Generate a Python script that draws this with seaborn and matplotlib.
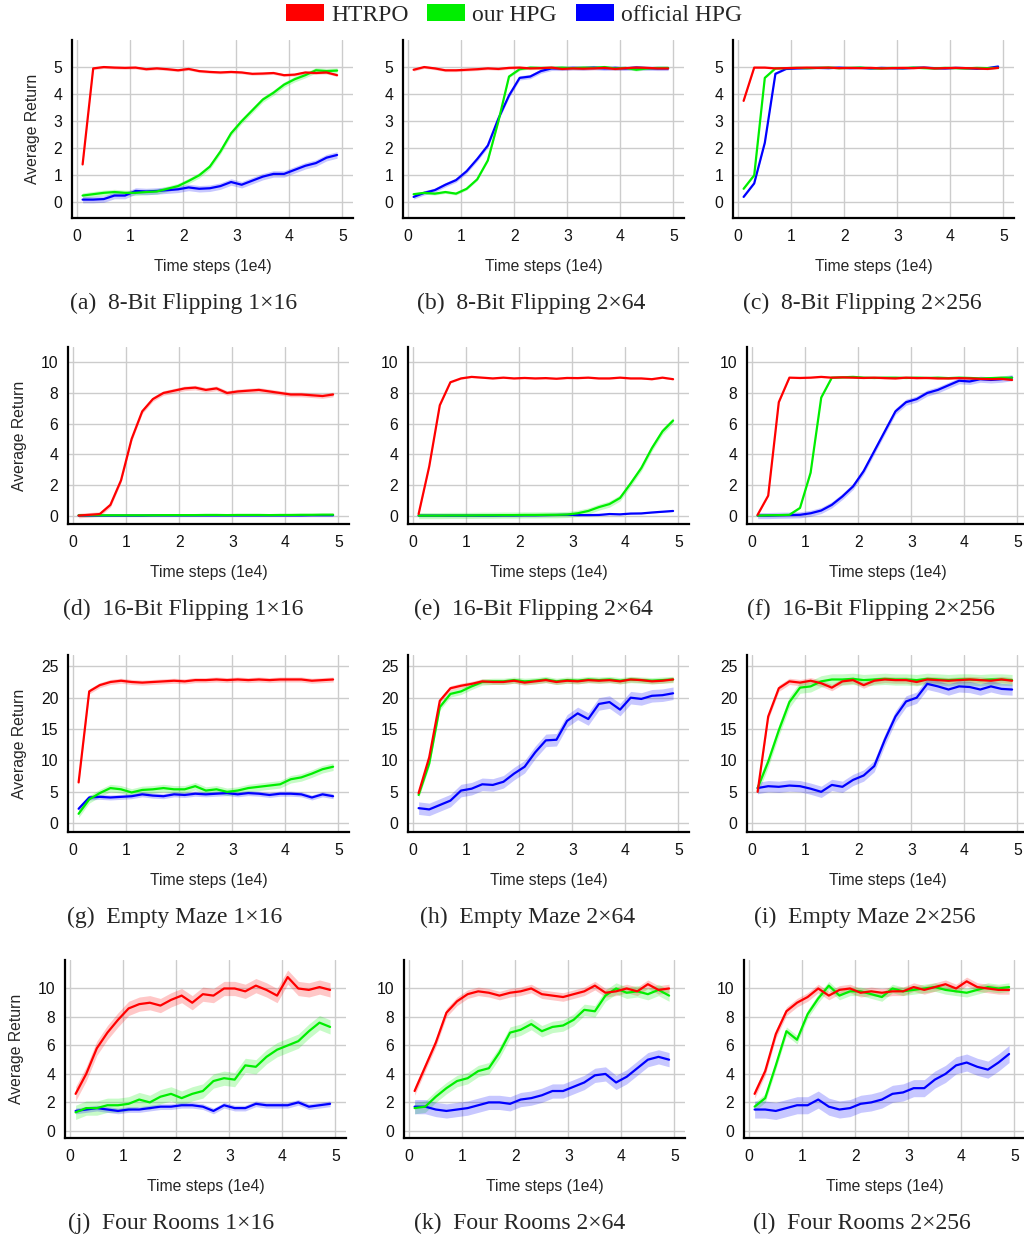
import numpy as np
import pandas as pd
import matplotlib
matplotlib.use("Agg")
import matplotlib.pyplot as plt
import seaborn as sns
from matplotlib.patches import Patch

# ---------------- data ----------------
time_steps = [0.1, 0.3, 0.5, 0.7, 0.9, 1.1, 1.3, 1.5, 1.7, 1.9, 2.1, 2.3, 2.5,
              2.7, 2.9, 3.1, 3.3, 3.5, 3.7, 3.9, 4.1, 4.3, 4.5, 4.7, 4.9]
methods = ["HTRPO", "our HPG", "official HPG"]
captions = ["(a)  8-Bit Flipping 1\u00d716", "(b)  8-Bit Flipping 2\u00d764", "(c)  8-Bit Flipping 2\u00d7256",
            "(d)  16-Bit Flipping 1\u00d716", "(e)  16-Bit Flipping 2\u00d764", "(f)  16-Bit Flipping 2\u00d7256",
            "(g)  Empty Maze 1\u00d716", "(h)  Empty Maze 2\u00d764", "(i)  Empty Maze 2\u00d7256",
            "(j)  Four Rooms 1\u00d716", "(k)  Four Rooms 2\u00d764", "(l)  Four Rooms 2\u00d7256"]

htrpo_a = [1.4, 4.95, 5.0, 4.98, 4.97, 4.98, 4.92, 4.95, 4.92, 4.88, 4.93, 4.85, 4.82, 4.8, 4.82, 4.8, 4.75, 4.76, 4.78, 4.7, 4.72, 4.8, 4.78, 4.8, 4.7]
ourhpg_a = [0.25, 0.3, 0.35, 0.38, 0.35, 0.35, 0.38, 0.4, 0.5, 0.6, 0.79, 1.0, 1.32, 1.88, 2.55, 3.0, 3.4, 3.8, 4.05, 4.35, 4.55, 4.7, 4.88, 4.85, 4.87]
official_a = [0.1, 0.1, 0.12, 0.25, 0.25, 0.42, 0.4, 0.42, 0.45, 0.48, 0.55, 0.5, 0.52, 0.6, 0.75, 0.65, 0.8, 0.95, 1.05, 1.05, 1.2, 1.35, 1.45, 1.65, 1.75]

htrpo_b = [4.9, 5.0, 4.95, 4.88, 4.88, 4.9, 4.92, 4.95, 4.93, 4.97, 4.98, 4.95, 4.96, 4.98, 4.93, 4.95, 4.94, 4.95, 4.97, 4.93, 4.96, 4.98, 4.97, 4.95, 4.95]
ourhpg_b = [0.3, 0.35, 0.32, 0.38, 0.32, 0.5, 0.85, 1.55, 3.0, 4.65, 4.92, 4.98, 4.97, 4.97, 4.98, 4.96, 4.98, 4.97, 5.0, 4.95, 4.97, 4.9, 4.95, 4.97, 4.97]
official_b = [0.2, 0.35, 0.45, 0.65, 0.82, 1.15, 1.6, 2.1, 3.1, 3.95, 4.6, 4.65, 4.85, 4.95, 4.95, 4.97, 4.96, 4.98, 4.95, 4.97, 4.95, 4.98, 4.96, 4.95, 4.95]

htrpo_c = [3.75, 4.98, 4.98, 4.95, 4.96, 4.97, 4.98, 4.97, 4.98, 4.96, 4.97, 4.96, 4.97, 4.95, 4.96, 4.97, 4.96, 4.98, 4.95, 4.96, 4.97, 4.96, 4.95, 4.93, 4.97]
ourhpg_c = [0.5, 1.0, 4.6, 4.95, 4.96, 4.97, 4.96, 4.97, 4.98, 4.96, 4.97, 4.98, 4.96, 4.95, 4.97, 4.96, 4.98, 4.96, 4.95, 4.97, 4.96, 4.95, 4.97, 4.96, 4.97]
official_c = [0.2, 0.7, 2.2, 4.75, 4.93, 4.95, 4.96, 4.97, 4.96, 4.98, 4.96, 4.97, 4.95, 4.97, 4.96, 4.95, 4.97, 4.98, 4.96, 4.95, 4.97, 4.96, 4.94, 4.96, 5.02]

htrpo_d = [0.0, 0.05, 0.1, 0.7, 2.3, 5.0, 6.8, 7.6, 8.0, 8.15, 8.3, 8.35, 8.2, 8.3, 8.0, 8.1, 8.15, 8.2, 8.1, 8.0, 7.9, 7.9, 7.85, 7.8, 7.9]
ourhpg_d = [0.02, 0.02, 0.02, 0.02, 0.02, 0.02, 0.02, 0.02, 0.03, 0.03, 0.03, 0.03, 0.04, 0.04, 0.03, 0.04, 0.04, 0.04, 0.03, 0.04, 0.04, 0.05, 0.05, 0.06, 0.06]
official_d = [0.0, 0.0, 0.0, 0.0, 0.0, 0.0, 0.0, 0.01, 0.01, 0.01, 0.01, 0.01, 0.01, 0.01, 0.01, 0.01, 0.01, 0.01, 0.01, 0.01, 0.01, 0.01, 0.02, 0.02, 0.02]

htrpo_e = [0.1, 3.2, 7.2, 8.7, 8.95, 9.05, 9.0, 8.95, 9.0, 8.95, 8.98, 8.95, 8.97, 8.93, 8.98, 8.97, 9.0, 8.95, 8.95, 9.0, 8.95, 8.95, 8.9, 9.0, 8.9]
ourhpg_e = [0.0, 0.0, 0.0, 0.01, 0.01, 0.01, 0.02, 0.02, 0.03, 0.03, 0.04, 0.04, 0.05, 0.05, 0.07, 0.15, 0.3, 0.55, 0.75, 1.15, 2.1, 3.1, 4.4, 5.5, 6.2]
official_e = [0.0, 0.0, 0.0, 0.0, 0.0, 0.0, 0.0, 0.0, 0.01, 0.01, 0.02, 0.02, 0.03, 0.04, 0.05, 0.03, 0.03, 0.04, 0.1, 0.08, 0.13, 0.14, 0.2, 0.25, 0.3]

htrpo_f = [0.05, 1.3, 7.4, 9.0, 8.98, 9.0, 9.05, 9.0, 9.02, 9.0, 8.98, 9.0, 8.97, 8.95, 9.0, 8.97, 8.98, 8.95, 8.95, 8.97, 8.95, 8.92, 8.9, 8.92, 8.85]
ourhpg_f = [0.0, 0.02, 0.03, 0.05, 0.5, 2.8, 7.7, 9.0, 9.02, 9.05, 9.0, 8.98, 9.0, 9.0, 8.98, 9.0, 8.98, 9.0, 8.97, 9.0, 8.98, 8.95, 8.97, 9.0, 9.0]
official_f = [0.0, 0.0, 0.02, 0.03, 0.05, 0.15, 0.33, 0.7, 1.25, 1.9, 2.9, 4.2, 5.5, 6.8, 7.4, 7.6, 8.0, 8.2, 8.5, 8.8, 8.75, 8.9, 8.85, 8.9, 9.0]

htrpo_g = [6.5, 21.0, 22.0, 22.5, 22.7, 22.5, 22.4, 22.5, 22.6, 22.7, 22.6, 22.8, 22.8, 22.9, 22.8, 22.9, 22.8, 22.9, 22.8, 22.9, 22.9, 22.9, 22.7, 22.8, 22.9]
ourhpg_g = [1.5, 3.8, 4.8, 5.6, 5.4, 4.9, 5.3, 5.4, 5.6, 5.4, 5.4, 5.9, 5.2, 5.4, 5.0, 5.2, 5.6, 5.8, 6.0, 6.2, 7.0, 7.3, 7.9, 8.6, 9.0]
official_g = [2.3, 4.1, 4.2, 4.1, 4.2, 4.3, 4.6, 4.4, 4.3, 4.6, 4.5, 4.7, 4.6, 4.7, 4.8, 4.6, 4.8, 4.7, 4.5, 4.7, 4.7, 4.6, 4.1, 4.6, 4.3]

htrpo_h = [4.8, 10.5, 19.5, 21.5, 21.9, 22.2, 22.6, 22.5, 22.5, 22.7, 22.4, 22.6, 22.8, 22.5, 22.7, 22.6, 22.8, 22.7, 22.8, 22.6, 22.9, 22.8, 22.6, 22.7, 22.9]
ourhpg_h = [4.5, 9.5, 18.5, 20.6, 21.0, 21.8, 22.5, 22.6, 22.6, 22.8, 22.6, 22.7, 22.9, 22.6, 22.8, 22.7, 22.9, 22.8, 22.9, 22.7, 22.9, 22.8, 22.7, 22.8, 22.9]
official_h = [2.4, 2.2, 2.9, 3.6, 5.2, 5.5, 6.2, 6.1, 6.6, 7.9, 9.0, 11.3, 13.2, 13.3, 16.3, 17.5, 16.6, 19.0, 19.3, 18.1, 20.0, 19.8, 20.3, 20.4, 20.7]

htrpo_i = [5.0, 17.0, 21.5, 22.6, 22.4, 22.7, 22.3, 21.6, 22.6, 22.8, 22.0, 22.7, 22.9, 22.8, 22.8, 22.5, 22.9, 22.8, 22.7, 22.8, 22.9, 22.8, 22.7, 22.9, 22.7]
ourhpg_i = [5.6, 9.8, 14.8, 19.3, 21.6, 21.8, 22.6, 22.9, 22.9, 23.0, 22.8, 22.9, 23.0, 22.9, 22.9, 22.8, 23.0, 22.9, 22.8, 22.9, 22.9, 22.8, 22.9, 22.9, 22.8]
official_i = [5.6, 5.9, 5.8, 6.0, 5.9, 5.5, 5.0, 6.1, 5.8, 6.9, 7.6, 9.1, 13.3, 17.0, 19.4, 20.0, 22.2, 21.8, 21.3, 21.8, 21.7, 21.3, 21.8, 21.4, 21.3]

htrpo_j = [2.6, 4.0, 5.8, 6.9, 7.8, 8.6, 8.9, 9.0, 8.8, 9.2, 9.5, 9.0, 9.6, 9.5, 10.0, 10.0, 9.8, 10.2, 9.9, 9.5, 10.8, 10.0, 9.9, 10.1, 9.9]
ourhpg_j = [1.3, 1.6, 1.6, 1.8, 1.8, 1.9, 2.2, 2.0, 2.4, 2.6, 2.3, 2.6, 2.8, 3.5, 3.7, 3.6, 4.6, 4.5, 5.2, 5.7, 6.0, 6.3, 7.0, 7.6, 7.3]
official_j = [1.4, 1.5, 1.6, 1.5, 1.4, 1.5, 1.5, 1.6, 1.7, 1.7, 1.8, 1.8, 1.7, 1.4, 1.8, 1.6, 1.6, 1.9, 1.8, 1.8, 1.8, 2.0, 1.7, 1.8, 1.9]

htrpo_k = [2.8, 4.5, 6.2, 8.3, 9.1, 9.6, 9.8, 9.7, 9.5, 9.7, 9.8, 10.0, 9.6, 9.5, 9.4, 9.6, 9.8, 10.2, 9.7, 9.8, 10.0, 9.8, 10.3, 9.9, 10.0]
ourhpg_k = [1.6, 1.7, 2.4, 3.0, 3.5, 3.7, 4.2, 4.4, 5.5, 6.9, 7.1, 7.5, 7.0, 7.3, 7.4, 7.8, 8.5, 8.4, 9.5, 10.0, 9.7, 9.8, 9.6, 9.9, 9.5]
official_k = [1.7, 1.7, 1.5, 1.4, 1.5, 1.6, 1.8, 2.0, 2.0, 1.9, 2.2, 2.3, 2.5, 2.8, 2.8, 3.1, 3.4, 3.9, 4.0, 3.4, 3.8, 4.4, 5.0, 5.2, 5.0]

htrpo_l = [2.6, 4.2, 6.8, 8.4, 9.0, 9.4, 10.0, 9.5, 9.9, 10.0, 9.7, 9.8, 9.7, 9.8, 9.8, 10.1, 9.9, 10.1, 10.3, 10.0, 10.5, 10.1, 10.0, 9.9, 9.9]
ourhpg_l = [1.7, 2.3, 4.6, 7.0, 6.4, 8.2, 9.3, 10.2, 9.5, 9.8, 9.8, 9.6, 9.4, 10.0, 9.8, 9.9, 10.0, 10.1, 9.9, 9.8, 9.7, 9.9, 10.1, 10.0, 10.1]
official_l = [1.5, 1.5, 1.4, 1.6, 1.8, 1.8, 2.2, 1.7, 1.5, 1.6, 1.9, 2.0, 2.2, 2.6, 2.7, 3.0, 3.0, 3.6, 4.0, 4.6, 4.8, 4.5, 4.3, 4.8, 5.4]

# half-width of shaded bands [HTRPO, our HPG, official HPG]
band_a = [0.05, 0.1, 0.12]
band_b = [0.05, 0.05, 0.08]
band_c = [0.03, 0.03, 0.03]
band_d = [0.15, 0.03, 0.03]
band_e = [0.05, 0.2, 0.03]
band_f = [0.05, 0.05, 0.2]
band_g = [0.4, 0.6, 0.4]
band_h = [0.4, 0.5, 1.0]
band_i = [0.5, 0.9, 0.9]
band_j = [0.5, 0.5, 0.2]
band_k = [0.3, 0.4, 0.5]
band_l = [0.3, 0.3, 0.6]

row_yticks = [[0, 1, 2, 3, 4, 5], [0, 2, 4, 6, 8, 10], [0, 5, 10, 15, 20, 25], [0, 2, 4, 6, 8, 10]]
x_ticks = [0, 1, 2, 3, 4, 5]

panels = [
    (htrpo_a, ourhpg_a, official_a, band_a), (htrpo_b, ourhpg_b, official_b, band_b), (htrpo_c, ourhpg_c, official_c, band_c),
    (htrpo_d, ourhpg_d, official_d, band_d), (htrpo_e, ourhpg_e, official_e, band_e), (htrpo_f, ourhpg_f, official_f, band_f),
    (htrpo_g, ourhpg_g, official_g, band_g), (htrpo_h, ourhpg_h, official_h, band_h), (htrpo_i, ourhpg_i, official_i, band_i),
    (htrpo_j, ourhpg_j, official_j, band_j), (htrpo_k, ourhpg_k, official_k, band_k), (htrpo_l, ourhpg_l, official_l, band_l),
]

# ---------------- style ----------------
sns.set_theme(style="white")
plt.rcParams['font.family'] = ['Liberation Sans', 'DejaVu Sans']
SERIF = ['Liberation Serif', 'DejaVu Serif']
colors = {"HTRPO": "#ff0000", "our HPG": "#00ee00", "official HPG": "#0000ff"}
draw_order = ["official HPG", "our HPG", "HTRPO"]

W, H = 1024, 1234
fig = plt.figure(figsize=(W / 100, H / 100), dpi=100)

row_top = [40, 347, 655, 960]
row_bottom = [218, 524, 832, 1138]
row_ylim = [(-0.58, 6.0), (-0.55, 11.0), (-1.4, 26.8), (-0.5, 12.0)]
col_left = [[72, 403, 733], [68, 408, 747], [68, 408, 747], [65, 404, 744]]
axes_w = 281
cap_x = [[184, 531, 862], [183, 533, 871], [175, 528, 865], [171, 520, 862]]

for idx, (h, o, f, band) in enumerate(panels):
    r, c = divmod(idx, 3)
    left = col_left[r][c]
    ax = fig.add_axes([left / W, 1 - row_bottom[r] / H, axes_w / W, (row_bottom[r] - row_top[r]) / H])
    df = pd.DataFrame({
        "t": time_steps * 3,
        "v": h + o + f,
        "m": [methods[0]] * len(h) + [methods[1]] * len(o) + [methods[2]] * len(f),
    })
    for m, series, bw in zip(methods, (h, o, f), band):
        s = np.array(series)
        ax.fill_between(time_steps, s - bw, s + bw, color=colors[m], alpha=0.22, lw=0)
    sns.lineplot(data=df, x="t", y="v", hue="m", hue_order=draw_order,
                 palette=colors, ax=ax, legend=False, linewidth=1.6, errorbar=None)
    ax.set_xlim(-0.1, 5.2)
    ax.set_ylim(*row_ylim[r])
    ax.set_xticks(x_ticks)
    ax.set_yticks(row_yticks[r])
    ax.grid(True, color="#cccccc", lw=1.0)
    ax.set_axisbelow(True)
    for sp in ["top", "right"]:
        ax.spines[sp].set_visible(False)
    for sp in ["left", "bottom"]:
        ax.spines[sp].set_color("black")
        ax.spines[sp].set_linewidth(1.6)
    ax.tick_params(axis="both", length=0, labelsize=11.3, colors="#111111")
    ax.tick_params(axis="x", pad=8)
    ax.tick_params(axis="y", pad=7)
    ax.set_xlabel("Time steps (1e4)", fontsize=11.3, labelpad=11)
    if c == 0:
        ax.set_ylabel("Average Return", fontsize=11.3, labelpad=10)
    else:
        ax.set_ylabel("")
    fig.text(cap_x[r][c] / W, 1 - (row_bottom[r] + 85) / H, captions[idx],
             ha="center", va="center", fontsize=17, family=SERIF)

handles = [Patch(facecolor=colors[m], edgecolor="none", label=m) for m in methods]
fig.legend(handles=handles, loc="center", bbox_to_anchor=(514 / W, 1 - 15 / H), ncol=3,
           frameon=False, prop={"family": SERIF, "size": 17}, handlelength=1.6,
           handleheight=0.7, handletextpad=0.3, columnspacing=0.8, borderaxespad=0)

fig.savefig("out.png", dpi=100)
